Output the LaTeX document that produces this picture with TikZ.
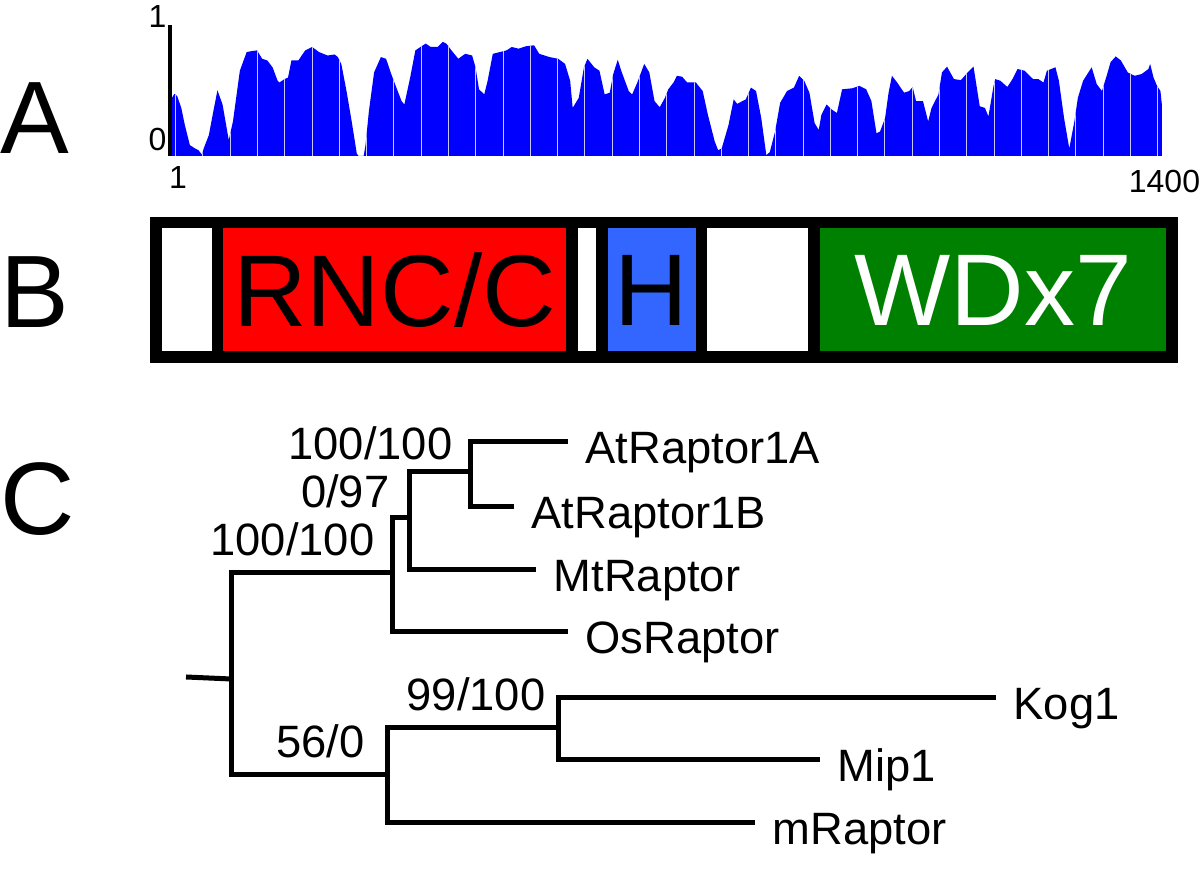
\documentclass[tikz,border=0pt]{standalone}
\usepackage{fontspec}
\setmainfont{Liberation Sans}
\usepackage{tikz}
\usetikzlibrary{positioning, calc}
\definecolor{hblue}{RGB}{51,102,255}
\definecolor{wdgreen}{RGB}{0,128,0}
\definecolor{gridlav}{RGB}{200,200,255}

\begin{document}
\begin{tikzpicture}[
    panel/.style={anchor=base west, inner sep=0, font=\fontsize{29.3}{35}\selectfont},
    dom/.style={draw, line width=0.115cm, minimum height=1.345cm, inner sep=0, outer sep=0, font=\fontsize{29}{35}\selectfont},
    axlabel/.style={inner sep=0, font=\fontsize{9.1}{11}\selectfont},
    branch/.style={line width=0.05cm},
    leaf/.style={anchor=base west, inner sep=0, xshift=0.17cm, yshift=-0.22cm, font=\fontsize{12.9}{15}\selectfont},
    supp/.style={anchor=base east, inner sep=0, font=\fontsize{12.9}{15}\selectfont}]
                    \useasboundingbox (0,0) rectangle (12,8.69);
                    % panel letters
                    \node[panel] (pA) at (0,7.15) {A};
                    \node[panel] (pB) at (0,5.41) {B};
                    \node[panel] (pC) at (0,3.34) {C};
                    % A: conservation profile
                    \begin{scope}[shift={(1.70,7.13)}, x=0.01cm, y=1.31cm]
                        \begin{scope}
                            \clip plot coordinates {(0,0) (0,0.419) (4.4,0.475) (7.2,0.457) (11.3,0.367) (14.8,0.238) (19.9,0.083) (25.1,0.057) (28.5,0.044) (32.0,0.010) (33.7,0.057) (38.9,0.160) (44.0,0.367) (47.5,0.501) (52.6,0.393) (58.8,0.121) (63.0,0.264) (69.9,0.651) (76.7,0.793) (81.9,0.801) (87.1,0.806) (92.2,0.742) (97.4,0.729) (102.6,0.677) (107.7,0.574) (109.5,0.561) (114.6,0.587) (118.1,0.599) (121.5,0.729) (128.4,0.729) (135.3,0.806) (142.2,0.832) (149.1,0.793) (157.7,0.767) (164.6,0.775) (168.0,0.755) (171.4,0.703) (176.6,0.496) (181.8,0.264) (186.9,0.018) (188.7,0) (193.8,0) (195.6,0.083) (199.0,0.341) (204.2,0.638) (211.0,0.755) (216.2,0.742) (221.4,0.625) (226.5,0.522) (231.7,0.419) (234.5,0.393) (240.3,0.599) (245.5,0.806) (250.6,0.832) (255.8,0.858) (261.0,0.832) (267.9,0.832) (273.0,0.871) (276.5,0.858) (281.6,0.806) (288.5,0.742) (295.4,0.780) (302.3,0.767) (305.7,0.677) (309.2,0.509) (314.4,0.470) (317.8,0.574) (323.0,0.780) (329.8,0.793) (336.7,0.806) (341.9,0.832) (348.8,0.819) (355.7,0.837) (364.3,0.845) (369.4,0.780) (379.8,0.755) (388.4,0.742) (395.3,0.703) (400.4,0.574) (402.9,0.367) (409.0,0.444) (414.2,0.677) (417.7,0.742) (424.5,0.677) (429.7,0.651) (434.9,0.470) (440.0,0.483) (443.5,0.625) (448.0,0.734) (452.1,0.638) (459.0,0.496) (462.4,0.470) (467.6,0.561) (474.5,0.703) (479.6,0.638) (484.8,0.419) (490.0,0.372) (495.2,0.444) (498.6,0.509) (503.8,0.561) (507.2,0.612) (512.4,0.605) (517.5,0.561) (526.2,0.561) (533.0,0.496) (538.2,0.315) (545.1,0.109) (548.5,0.044) (552.0,0.057) (558.9,0.238) (564.0,0.432) (567.5,0.398) (576.1,0.432) (581.3,0.522) (586.4,0.496) (591.6,0.289) (596.7,0.005) (600.2,0.031) (605.4,0.186) (610.5,0.406) (617.4,0.496) (624.3,0.522) (629.5,0.612) (634.6,0.574) (639.8,0.483) (645.0,0.251) (649.1,0.199) (651.8,0.315) (657.0,0.393) (662.2,0.354) (667.3,0.328) (672.5,0.509) (682.8,0.517) (689.7,0.535) (696.6,0.509) (701.8,0.419) (706.9,0.173) (710.4,0.186) (715.5,0.289) (719.0,0.483) (722.4,0.612) (727.6,0.561) (734.5,0.483) (739.7,0.496) (743.1,0.527) (746.5,0.419) (753.4,0.419) (758.6,0.264) (762.0,0.367) (768.9,0.470) (772.4,0.638) (777.5,0.682) (784.4,0.587) (791.3,0.579) (798.2,0.638) (804.0,0.682) (810.2,0.380) (815.4,0.367) (818.9,0.302) (824.0,0.535) (825.7,0.587) (830.9,0.574) (837.8,0.527) (843.0,0.587) (848.1,0.664) (855.0,0.651) (863.6,0.587) (868.8,0.587) (874.0,0.561) (877.4,0.651) (886.0,0.677) (889.4,0.574) (894.6,0.289) (899.8,0.057) (904.9,0.264) (908.4,0.444) (913.6,0.574) (922.2,0.677) (927.3,0.548) (932.5,0.496) (937.7,0.625) (941.1,0.716) (946.3,0.760) (951.4,0.729) (958.3,0.638) (965.2,0.612) (972.1,0.625) (979.0,0.664) (980.7,0.703) (984.1,0.599) (987.6,0.535) (991.0,0.496) (992.8,0.367) (993,0)} -- cycle;
                            \fill[blue] (0,0) rectangle (993,1);
                            \foreach \k in {0,...,36}
                                \draw[gridlav, line width=0.01cm] ({5.6+27.3*\k},0) -- ++(0,1);
                        \end{scope}
                        \draw[line width=0.04cm] (0,0) -- (0,1);
                    \end{scope}
                    \node[axlabel, anchor=east] (ytop) at (1.67,8.52) {1};
                    \node[axlabel, anchor=east] (ybot) at (1.67,7.29) {0};
                    \node[axlabel, anchor=west] (xfirst) at (1.685,6.91) {1};
                    \node[axlabel] (xlast) at (11.645,6.87) {1400};
                    % B: domains
                    \node[dom, minimum width=0.615cm] (w1) at (1.8675,5.79) {};
                    \node[dom, fill=red, minimum width=3.545cm, right=0cm of w1] (rnc) {RNC/C};
                    \node[dom, minimum width=0.30cm, right=0cm of rnc] (w2) {};
                    \node[dom, fill=hblue, minimum width=0.995cm, right=0cm of w2] (hd) {H};
                    \node[dom, minimum width=1.125cm, right=0cm of hd] (w3) {};
                    \node[dom, fill=wdgreen, text=white, minimum width=3.58cm, right=0cm of w3] (wd) {WDx7};
                    % C: tree
                    \coordinate (stub) at (1.86,1.92);
                    \coordinate (root) at (2.31,1.90);
                    \coordinate (pl) at (3.92,2.96);
                    \coordinate (di) at (4.09,3.51);
                    \coordinate (ar) at (4.70,3.97);
                    \coordinate (op) at (3.87,0.94);
                    \coordinate (fy) at (5.58,1.41);
                    \coordinate (tA) at (5.68,4.27);
                    \coordinate (tB) at (5.14,3.62);
                    \coordinate (tMt) at (5.36,2.99);
                    \coordinate (tOs) at (5.68,2.37);
                    \coordinate (tK) at (9.96,1.71);
                    \coordinate (tMi) at (8.20,1.09);
                    \coordinate (tmR) at (7.55,0.46);
                    \node[leaf] (atA) at (tA) {AtRaptor1A};
                    \node[leaf] (atB) at (tB) {AtRaptor1B};
                    \node[leaf] (mt) at (tMt) {MtRaptor};
                    \node[leaf] (os) at (tOs) {OsRaptor};
                    \node[leaf] (kog) at (tK) {Kog1};
                    \node[leaf] (mip) at (tMi) {Mip1};
                    \node[leaf] (mr) at (tmR) {mRaptor};
                    \draw[branch] (stub) -- (root);
                    \draw[branch] (pl) -| (root) |- (op);
                    \draw[branch] (tOs) -| (pl) |- (di);
                    \draw[branch] (tMt) -| (di) |- (ar);
                    \draw[branch] (tB) -| (ar) |- (tA);
                    \draw[branch] (tmR) -| (op) |- (fy);
                    \draw[branch] (tMi) -| (fy) |- (tK);
                    \node[supp] (s1) at (4.53,4.09) {100/100};
                    \node[supp] (s2) at (3.90,3.61) {0/97};
                    \node[supp] (s3) at (3.75,3.13) {100/100};
                    \node[supp] (s4) at (5.46,1.58) {99/100};
                    \node[supp] (s5) at (3.65,1.11) {56/0};
\end{tikzpicture}
\end{document}
